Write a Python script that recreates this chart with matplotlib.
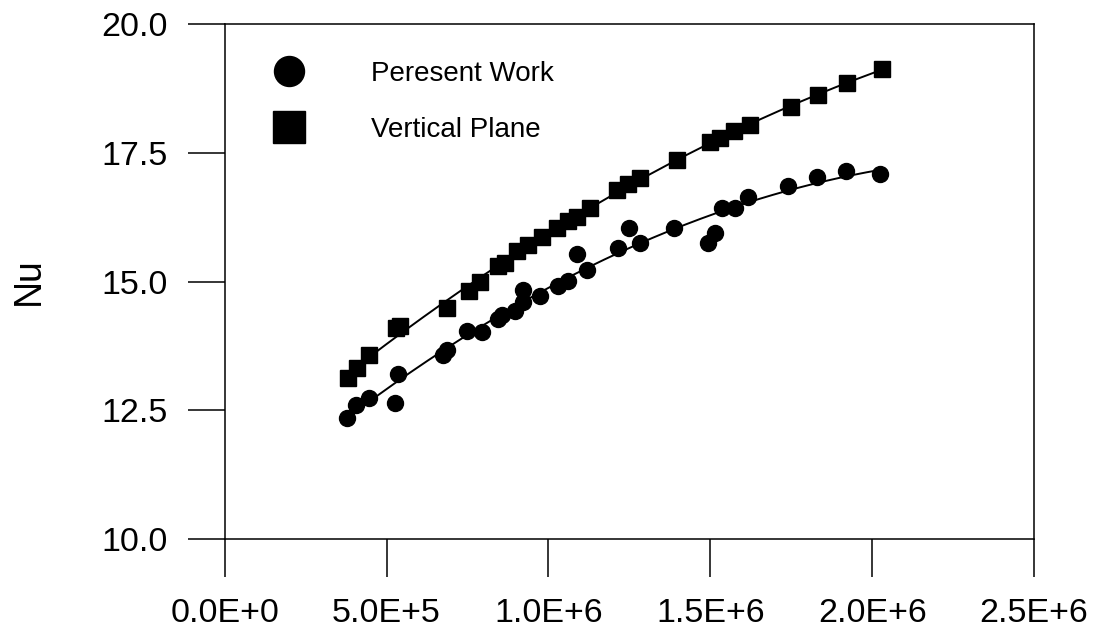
import matplotlib
matplotlib.use('Agg')
import matplotlib.pyplot as plt
from matplotlib.lines import Line2D
import numpy as np

# Present work (circles)
present_ra = [3.78e5, 4.05e5, 4.45e5, 5.26e5, 5.35e5, 6.74e5, 6.87e5, 7.48e5, 7.95e5,
              8.44e5, 8.56e5, 8.97e5, 9.21e5, 9.21e5, 9.74e5, 1.029e6, 1.060e6, 1.088e6,
              1.119e6, 1.215e6, 1.249e6, 1.283e6, 1.388e6, 1.493e6, 1.514e6, 1.535e6,
              1.576e6, 1.616e6, 1.740e6, 1.829e6, 1.919e6, 2.024e6]
present_nu = [12.36, 12.61, 12.75, 12.65, 13.21, 13.58, 13.67, 14.04, 14.02,
              14.28, 14.35, 14.43, 14.61, 14.84, 14.72, 14.92, 15.01, 15.53,
              15.23, 15.65, 16.04, 15.75, 16.04, 15.75, 15.94, 16.43,
              16.43, 16.64, 16.86, 17.03, 17.15, 17.09]

# Vertical plane (squares)
vertical_ra = [3.81e5, 4.09e5, 4.45e5, 5.28e5, 5.42e5, 6.87e5, 7.55e5, 7.89e5, 8.44e5,
               8.66e5, 9.03e5, 9.37e5, 9.80e5, 1.026e6, 1.060e6, 1.088e6, 1.128e6,
               1.212e6, 1.246e6, 1.283e6, 1.397e6, 1.499e6, 1.530e6, 1.573e6, 1.622e6,
               1.749e6, 1.833e6, 1.922e6, 2.030e6]
vertical_nu = [13.13, 13.32, 13.58, 14.10, 14.13, 14.49, 14.82, 14.99, 15.30,
               15.36, 15.59, 15.71, 15.87, 16.05, 16.18, 16.26, 16.42,
               16.78, 16.90, 17.01, 17.36, 17.71, 17.79, 17.92, 18.04,
               18.39, 18.62, 18.85, 19.12]

x_ticks = [0, 5e5, 1e6, 1.5e6, 2e6, 2.5e6]
x_tick_labels = ['0.0E+0', '5.0E+5', '1.0E+6', '1.5E+6', '2.0E+6', '2.5E+6']
y_ticks = [10.0, 12.5, 15.0, 17.5, 20.0]
y_tick_labels = ['10.0', '12.5', '15.0', '17.5', '20.0']

plt.rcParams['font.family'] = ['Liberation Sans', 'DejaVu Sans']

fig = plt.figure(figsize=(10.99, 6.36), dpi=100)
ax = fig.add_axes([0.2045, 0.152, 0.7364, 0.8103])

# Fitted curves (quadratic least squares through each series)
for ra, nu in [(present_ra, present_nu), (vertical_ra, vertical_nu)]:
    coef = np.polyfit(ra, nu, 2)
    xs = np.linspace(min(ra), max(ra), 200)
    ax.plot(xs, np.polyval(coef, xs), color='black', linewidth=1.4, zorder=2)

ax.plot(present_ra, present_nu, linestyle='none', marker='o', markersize=11.5,
        color='black', zorder=3)
ax.plot(vertical_ra, vertical_nu, linestyle='none', marker='s', markersize=12,
        color='black', zorder=3)

ax.set_xlim(0, 2.5e6)
ax.set_ylim(10, 20)
ax.set_xticks(x_ticks)
ax.set_xticklabels(x_tick_labels)
ax.set_yticks(y_ticks)
ax.set_yticklabels(y_tick_labels)
ax.tick_params(direction='out', length=27, width=1.1, labelsize=24.5, pad=15)
ax.tick_params(axis='y', pad=14)
for sp in ax.spines.values():
    sp.set_linewidth(1.1)

fig.text(28.5 / 1099, 1 - 281 / 636, 'Nu', rotation=90, ha='center', va='center',
         fontsize=27)

handles = [
    Line2D([], [], linestyle='none', marker='o', markersize=21.6, color='black'),
    Line2D([], [], linestyle='none', marker='s', markersize=23, color='black'),
]
ax.legend(handles, ['Peresent Work', 'Vertical Plane'], loc='upper left',
          bbox_to_anchor=(0.0451, 0.929), frameon=False, fontsize=20,
          borderpad=0, borderaxespad=0, handlelength=2, handletextpad=1.95,
          labelspacing=1.10)

plt.savefig('out.png', dpi=100)
plt.close()
